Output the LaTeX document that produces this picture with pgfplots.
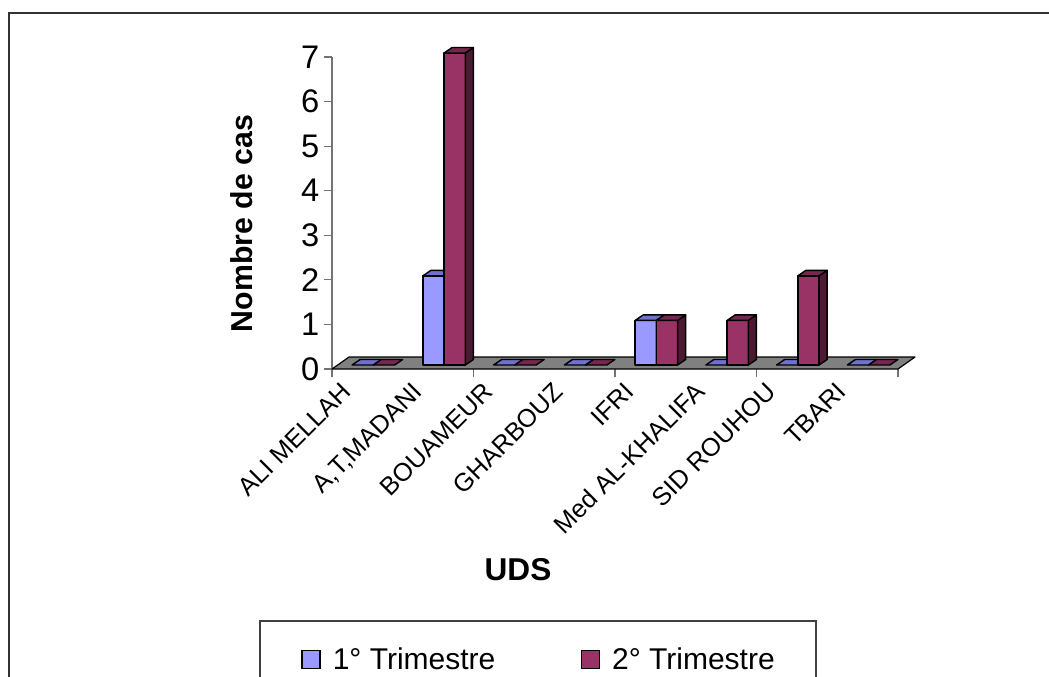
\documentclass[border=0pt]{standalone}
\usepackage{fontspec}
\setmainfont{Liberation Sans}
\usepackage{pgfplots}
\usepackage{pgfplotstable}
\pgfplotsset{compat=1.18}

\definecolor{triA}{RGB}{153,153,255}
\definecolor{triAtop}{RGB}{112,112,208}
\definecolor{triAside}{RGB}{76,76,128}
\definecolor{triB}{RGB}{153,51,102}
\definecolor{triBtop}{RGB}{118,38,79}
\definecolor{triBside}{RGB}{77,26,51}
\definecolor{floorgray}{RGB}{128,128,128}

% Nombre de cas par UDS et par trimestre
\pgfplotstableread{
idx t1 t2
0 0 0
1 2 7
2 0 0
3 0 0
4 1 1
5 0 1
6 0 2
7 0 0
}\casdata

% 3-D geometry, in axis units
\def\bw{0.3}     % bar width
\def\bz{0.09}    % lift of the bar foot above the front edge of the floor
\def\ddx{0.113}  % bar depth, horizontal
\def\ddy{0.123}  % bar depth, vertical

% one bar as a prism: #1 left edge, #2 value, #3 front, #4 top, #5 side colour
\newcommand{\barprism}[5]{%
  \pgfmathsetmacro\xa{#1}%
  \pgfmathsetmacro\xb{#1+\bw}%
  \pgfmathsetmacro\xc{#1+\ddx}%
  \pgfmathsetmacro\xd{#1+\bw+\ddx}%
  \pgfmathsetmacro\ya{\bz}%
  \pgfmathsetmacro\yb{#2+\bz}%
  \pgfmathsetmacro\yc{\bz+\ddy}%
  \pgfmathsetmacro\yd{#2+\bz+\ddy}%
  \pgfmathtruncatemacro\hasheight{#2>0}%
  \ifnum\hasheight=1
    \edef\tmp{\noexpand\addplot[forget plot, fill=#3, draw=black, line width=1.1pt, line join=round]
      coordinates {(\xa,\ya) (\xb,\ya) (\xb,\yb) (\xa,\yb)} -- cycle;}\tmp
    \edef\tmp{\noexpand\addplot[forget plot, fill=#5, draw=black, line width=1.1pt, line join=round]
      coordinates {(\xb,\ya) (\xd,\yc) (\xd,\yd) (\xb,\yb)} -- cycle;}\tmp
  \fi
  \edef\tmp{\noexpand\addplot[forget plot, fill=#4, draw=black, line width=1.1pt, line join=round]
    coordinates {(\xa,\yb) (\xb,\yb) (\xd,\yd) (\xc,\yd)} -- cycle;}\tmp
}

\begin{document}
\begin{tikzpicture}
\path[use as bounding box] (-249pt,-231pt) rectangle (537.75pt,276.75pt);
\begin{axis}[
  at={(0,0)}, anchor=origin,
  x=53.0625pt, y=33.4275pt,
  xmin=0, xmax=8, ymin=0, ymax=7,
  clip=false,
  axis lines*=left,
  x axis line style={draw=none},
  y axis line style={draw=black!55, line width=0.9pt},
  tick align=outside,
  major tick length=6pt,
  tick style={draw=black!55, line width=0.9pt},
  ytick={0,...,7},
  yticklabel style={font=\fontsize{24.5pt}{29pt}\selectfont},
  /pgf/number format/assume math mode=true,
  xtick={0,2,4,6,8},
  xticklabels={},
  extra x ticks={0.5,1.5,...,7.5},
  extra x tick labels={ALI MELLAH, {A,T,MADANI}, BOUAMEUR, GHARBOUZ, IFRI, Med AL-KHALIFA, SID ROUHOU, TBARI},
  extra x tick style={major tick length=0pt,
    xticklabel shift=18.5pt,
    xticklabel style={xshift=-11pt, rotate=45, anchor=base east, inner sep=0pt,
      font=\fontsize{19pt}{23pt}\selectfont}},
  ylabel={Nombre de cas},
  ylabel style={font=\bfseries\fontsize{22.7pt}{27pt}\selectfont,
    at={(axis description cs:-0.159,0.466)}, anchor=center},
  xlabel={UDS},
  xlabel style={font=\bfseries\fontsize{23.7pt}{28pt}\selectfont,
    at={(axis description cs:0.3286,-0.644)}, anchor=center},
  legend columns=2,
  legend cell align=left,
  legend image code/.code={\draw[#1, draw=black, line width=1.1pt] (0pt,-6.75pt) rectangle (13.5pt,6.75pt);},
  legend style={at={(-0.129,-0.8045)}, anchor=north west,
    draw=black!75, line width=1.5pt,
    inner xsep=31pt, inner ysep=20pt,
    font=\fontsize{22.5pt}{27pt}\selectfont,
    nodes={inner sep=0pt},
    /tikz/every odd column/.append style={column sep=9pt},
    /tikz/every even column/.append style={column sep=64pt}},
]
% floor
\addplot[forget plot, fill=floorgray, draw=black, line width=0.9pt, line join=round]
  coordinates {(0,0) (8,0) (8.24,0.269) (0.24,0.269)} -- cycle;
% bars, category by category
\pgfplotsforeachungrouped \i in {0,...,7}{%
  \pgfplotstablegetelem{\i}{t1}\of\casdata \let\va\pgfplotsretval
  \pgfplotstablegetelem{\i}{t2}\of\casdata \let\vb\pgfplotsretval
  \barprism{\i+0.285}{\va}{triA}{triAtop}{triAside}%
  \barprism{\i+0.585}{\vb}{triB}{triBtop}{triBside}%
}
\addlegendimage{fill=triA}
\addlegendentry{1° Trimestre}
\addlegendimage{fill=triB}
\addlegendentry{2° Trimestre}
\end{axis}
% chart area frame
\draw[black!80, line width=1.5pt] (-242.25pt,-240pt) -- (-242.25pt,267pt) -- (545pt,267pt);
\end{tikzpicture}
\end{document}
